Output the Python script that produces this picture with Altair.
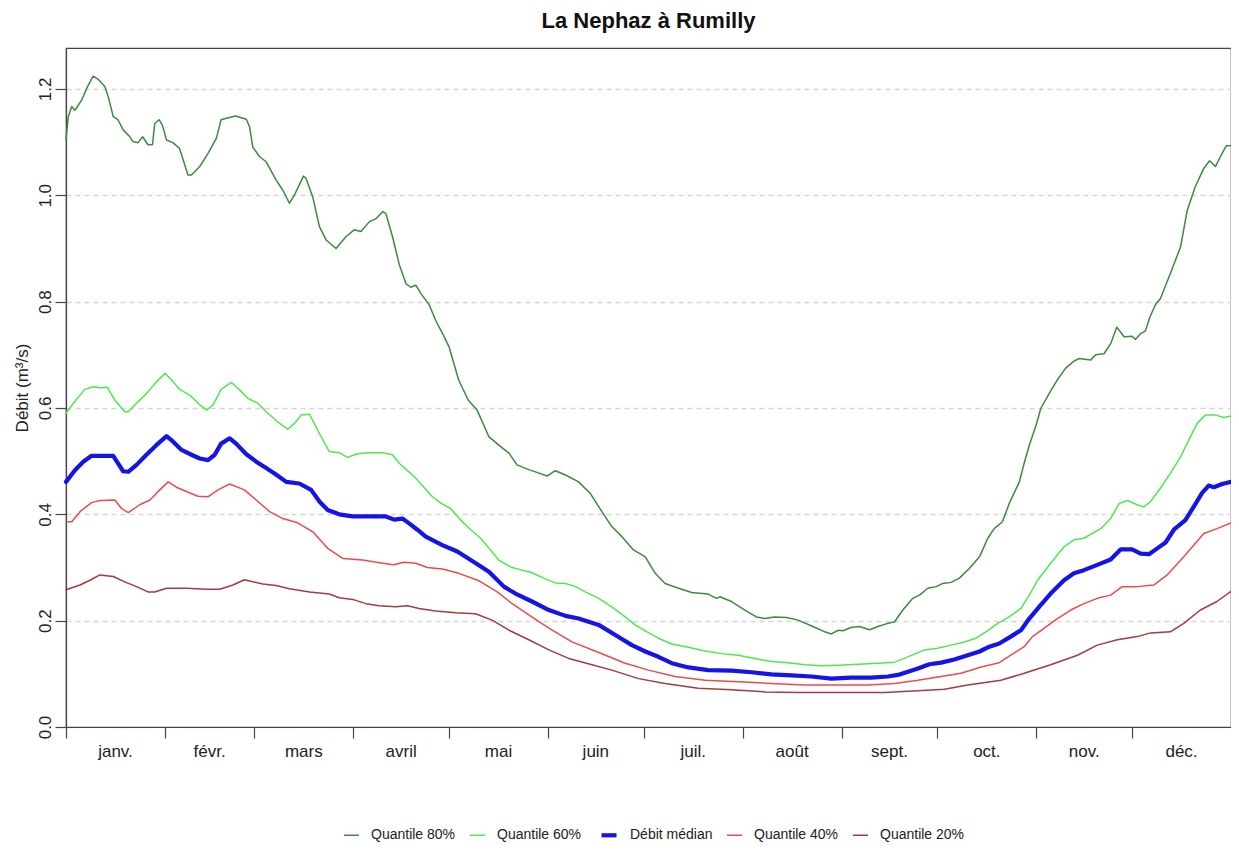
import altair as alt
import pandas as pd

FONT = "Liberation Sans"

months = ["janv.", "févr.", "mars", "avril", "mai", "juin", "juil.", "août",
          "sept.", "oct.", "nov.", "déc."]
month_start = [0, 31, 59, 90, 120, 151, 181, 212, 243, 273, 304, 334]
month_mid = [15.5, 45, 74.5, 105, 135.5, 166, 196.5, 227.5, 258, 288.5, 319, 349.5]

y_ticks = [0.0, 0.2, 0.4, 0.6, 0.8, 1.0, 1.2]

series_names = ["Quantile 80%", "Quantile 60%", "Débit médian", "Quantile 40%", "Quantile 20%"]
series_colors = ["#3a8c3a", "#4ee84e", "#1414e6", "#ee4a4a", "#a33c3c"]
series_widths = [1.5, 1.5, 4.2, 1.5, 1.5]

# (jour de l'année, débit m3/s)
q80 = [(0, 1.104), (0.7, 1.148), (1.8, 1.167), (2.8, 1.160), (4.9, 1.179), (6.7, 1.204),
       (8.5, 1.224), (10.1, 1.218), (12.2, 1.204), (13.2, 1.186), (14.8, 1.148), (16.3, 1.142),
       (17.9, 1.123), (20, 1.110), (21, 1.101), (22.6, 1.099), (24, 1.110), (25.7, 1.095),
       (27.1, 1.095), (27.8, 1.135), (29.2, 1.142), (30.2, 1.132), (31.5, 1.104), (33.5, 1.099),
       (35.6, 1.088), (38.2, 1.038), (39.3, 1.038), (41.9, 1.054), (44.5, 1.079), (47.1, 1.107),
       (48.6, 1.142), (50.2, 1.145), (53.1, 1.149), (56.5, 1.143), (57.5, 1.129), (58.5, 1.091),
       (60.6, 1.073), (62.7, 1.063), (65.8, 1.029), (67.9, 1.010), (70, 0.985), (71.6, 1.001),
       (74.4, 1.036), (75.2, 1.032), (77.3, 0.997), (79.4, 0.941), (81.5, 0.916), (84.6, 0.900),
       (87.7, 0.922), (90.3, 0.935), (92.4, 0.932), (95, 0.950), (97.1, 0.956), (99.2, 0.969),
       (100.2, 0.966), (102.3, 0.922), (104.4, 0.870), (106.5, 0.834), (108, 0.827), (109.6, 0.831),
       (111.2, 0.815), (113.8, 0.794), (115.8, 0.765), (118.4, 0.735), (120, 0.715), (123, 0.653),
       (126, 0.615), (128.8, 0.596), (132.5, 0.546), (135.6, 0.530), (138.8, 0.515), (141.3, 0.493),
       (145, 0.484), (148, 0.478), (150.7, 0.472), (153.3, 0.482), (156.5, 0.474), (160.6, 0.461),
       (164.3, 0.439), (167.9, 0.405), (171, 0.377), (174.2, 0.358), (177.8, 0.333), (181.5, 0.320),
       (184.6, 0.289), (187.7, 0.270), (191.9, 0.261), (196, 0.253), (201.2, 0.250), (203.8, 0.242),
       (204.9, 0.245), (208.5, 0.236), (212.7, 0.220), (216.3, 0.207), (219, 0.204), (222, 0.207),
       (225.7, 0.206), (229.4, 0.201), (234, 0.189), (237.7, 0.179), (239.8, 0.175), (241.9, 0.182),
       (243.4, 0.181), (246, 0.187), (248.6, 0.189), (251.8, 0.183), (254.4, 0.189), (257, 0.194),
       (259.6, 0.198), (262.2, 0.220), (265.3, 0.242), (267.4, 0.248), (270, 0.261), (272.6, 0.264),
       (274.7, 0.270), (277.3, 0.272), (279.9, 0.280), (283, 0.298), (286.2, 0.320), (288.8, 0.355),
       (290.8, 0.373), (293.4, 0.386), (295.5, 0.420), (298.7, 0.461), (300.2, 0.496), (301.8, 0.530),
       (303.8, 0.565), (305.4, 0.599), (308, 0.627), (310.6, 0.653), (313.2, 0.675), (315.8, 0.688),
       (317.4, 0.693), (321, 0.690), (322.6, 0.700), (325.2, 0.702), (327.3, 0.721), (329.2, 0.752),
       (331.5, 0.734), (334, 0.735), (335.1, 0.729), (336.7, 0.740), (338.2, 0.745), (339.6, 0.771),
       (341.3, 0.794), (342.9, 0.806), (346, 0.853), (349.2, 0.903), (351.3, 0.972), (353.8, 1.016),
       (356.5, 1.051), (358.3, 1.065), (360.1, 1.054), (361.7, 1.073), (363.5, 1.093), (365, 1.093)]

q60 = [(0, 0.590), (2.3, 0.609), (5.9, 0.635), (8.5, 0.640), (10.6, 0.638), (12.9, 0.639),
       (15.3, 0.615), (18.4, 0.593), (19.5, 0.593), (22.1, 0.609), (25.2, 0.627), (28.3, 0.649),
       (31.1, 0.665), (33, 0.653), (35.6, 0.635), (38.8, 0.624), (41.9, 0.606), (44, 0.596),
       (46.1, 0.606), (48.6, 0.635), (51.8, 0.648), (54.4, 0.634), (57, 0.618), (60.1, 0.609),
       (62.7, 0.593), (66.3, 0.574), (69.5, 0.560), (71.6, 0.571), (73.7, 0.587), (76.3, 0.588),
       (79.4, 0.552), (82.5, 0.518), (85.6, 0.516), (88.2, 0.507), (91.3, 0.514), (94.5, 0.516),
       (99.2, 0.516), (102.3, 0.512), (104.4, 0.496), (109.6, 0.468), (114.8, 0.433), (117.4, 0.421),
       (120.5, 0.411), (123.7, 0.389), (126.8, 0.371), (129.9, 0.355), (133, 0.333), (135.6, 0.314),
       (139.3, 0.301), (142.9, 0.295), (146, 0.290), (149.7, 0.280), (153.3, 0.271), (156.5, 0.270),
       (159.6, 0.264), (162.7, 0.254), (166.9, 0.242), (171, 0.226), (175.2, 0.207), (178.3, 0.192),
       (182, 0.179), (185.6, 0.167), (189.8, 0.156), (195, 0.150), (200.2, 0.143), (205.4, 0.138),
       (210.6, 0.135), (215.8, 0.129), (221, 0.123), (226.2, 0.121), (231.5, 0.117), (236.7, 0.115),
       (241.9, 0.116), (248.1, 0.118), (254.4, 0.120), (259.6, 0.122), (262.7, 0.129), (265.8, 0.137),
       (269, 0.145), (273.1, 0.148), (277.3, 0.154), (281.5, 0.160), (285.1, 0.167), (288.2, 0.179),
       (291.9, 0.195), (295.5, 0.207), (299.2, 0.223), (301.8, 0.248), (304.4, 0.276), (308.5, 0.308),
       (312.7, 0.339), (315.8, 0.352), (318.9, 0.355), (324.2, 0.373), (327.3, 0.392), (329.9, 0.420),
       (332.5, 0.426), (335.6, 0.418), (337.7, 0.414), (339.8, 0.424), (342.9, 0.449), (346, 0.477),
       (349.2, 0.508), (351.8, 0.540), (354.4, 0.571), (357, 0.587), (360.1, 0.587), (362.7, 0.582),
       (365, 0.585)]

median = [(0, 0.461), (2.8, 0.483), (5.4, 0.499), (8, 0.510), (10.6, 0.510), (14.8, 0.510),
          (16.3, 0.496), (17.9, 0.481), (19.5, 0.480), (22.1, 0.493), (25.2, 0.512), (28.3, 0.530),
          (31.5, 0.547), (33.5, 0.537), (36.2, 0.521), (39.3, 0.512), (41.9, 0.505), (44.5, 0.502),
          (46.6, 0.512), (48.6, 0.533), (51.3, 0.543), (53.3, 0.533), (56.5, 0.513), (59.6, 0.499),
          (62.7, 0.487), (65.8, 0.475), (69, 0.461), (73.1, 0.458), (76.8, 0.446), (79.4, 0.424),
          (82, 0.408), (85.6, 0.400), (89.8, 0.396), (94, 0.396), (100.2, 0.396), (102.8, 0.390),
          (105.4, 0.392), (107.5, 0.383), (110.1, 0.371), (112.7, 0.358), (117.9, 0.342), (122.6, 0.330),
          (126.8, 0.314), (132.5, 0.292), (137.2, 0.264), (140.8, 0.251), (146, 0.236), (151.3, 0.220),
          (156.5, 0.209), (160.6, 0.204), (166.9, 0.192), (172.1, 0.173), (177.3, 0.154), (181.5, 0.142),
          (185.6, 0.132), (189.8, 0.120), (195, 0.112), (201.2, 0.107), (208.5, 0.106), (214.8, 0.103),
          (221, 0.099), (227.3, 0.097), (233.5, 0.095), (239.8, 0.091), (246, 0.093), (252.3, 0.093),
          (257.5, 0.095), (260.6, 0.098), (263.8, 0.104), (266.9, 0.110), (270.5, 0.118), (274.2, 0.121),
          (278.3, 0.127), (282.5, 0.135), (286.2, 0.142), (289.3, 0.151), (292.4, 0.157), (296, 0.170),
          (299.2, 0.182), (301.8, 0.204), (304.9, 0.226), (308.5, 0.251), (312.7, 0.276), (315.8, 0.289),
          (318.9, 0.295), (323.1, 0.305), (327.3, 0.315), (330.4, 0.334), (334, 0.334), (336.7, 0.326),
          (339.3, 0.325), (341.9, 0.336), (344.5, 0.347), (347.1, 0.371), (350.7, 0.389), (353.3, 0.414),
          (355.9, 0.440), (358, 0.454), (359.6, 0.451), (362.2, 0.457), (365, 0.461)]

q40 = [(0, 0.386), (1.8, 0.386), (4.4, 0.405), (8, 0.422), (10.6, 0.426), (15.3, 0.427),
       (17.4, 0.411), (19.5, 0.403), (23.1, 0.418), (26.3, 0.427), (29.4, 0.446), (32, 0.461),
       (34.6, 0.451), (37.7, 0.443), (41.3, 0.434), (44.5, 0.433), (47.6, 0.446), (51.3, 0.457),
       (55.9, 0.446), (59.6, 0.427), (63.8, 0.405), (67.9, 0.392), (72.6, 0.384), (77.3, 0.367),
       (82, 0.336), (86.7, 0.317), (92.9, 0.314), (99.2, 0.308), (102.8, 0.305), (105.9, 0.310),
       (109.6, 0.308), (113.2, 0.300), (117.9, 0.297), (123.1, 0.289), (129.4, 0.275), (135.1, 0.254),
       (139.8, 0.232), (145, 0.211), (151.3, 0.186), (158.5, 0.160), (166.9, 0.140), (175.2, 0.120),
       (182.5, 0.107), (190.8, 0.095), (200.2, 0.088), (210.6, 0.085), (221, 0.082), (231.5, 0.079),
       (245, 0.079), (251.3, 0.079), (259.6, 0.082), (266.9, 0.088), (274.2, 0.095), (280.4, 0.101),
       (286.7, 0.113), (292.4, 0.121), (296, 0.135), (300.2, 0.151), (302.8, 0.170), (306.5, 0.186),
       (310.6, 0.204), (314.8, 0.220), (318.9, 0.232), (323.1, 0.242), (327.3, 0.248), (330.9, 0.264),
       (335.6, 0.264), (340.8, 0.267), (345, 0.286), (350.2, 0.320), (353.8, 0.345), (356.5, 0.364),
       (360.6, 0.373), (365, 0.384)]

q20 = [(0, 0.258), (4.4, 0.267), (7.5, 0.276), (10.6, 0.286), (14.8, 0.283), (18.4, 0.273),
       (22.1, 0.264), (25.7, 0.254), (27.8, 0.254), (31.5, 0.261), (37.7, 0.261), (44, 0.259),
       (48.1, 0.259), (52.3, 0.267), (55.9, 0.277), (58.5, 0.273), (61.7, 0.269), (65.8, 0.266),
       (70, 0.260), (76.3, 0.254), (82.5, 0.250), (85.6, 0.243), (89.8, 0.240), (94, 0.232),
       (98.1, 0.228), (103.3, 0.226), (107, 0.228), (110.6, 0.223), (115.8, 0.218), (122.1, 0.215),
       (128.3, 0.213), (133.5, 0.201), (138.8, 0.182), (145, 0.164), (151.3, 0.145), (157.5, 0.129),
       (164.8, 0.117), (171, 0.107), (179.4, 0.091), (187.7, 0.082), (198.1, 0.073), (208.5, 0.070),
       (219, 0.066), (229.4, 0.065), (245, 0.065), (256.5, 0.065), (266.9, 0.068), (275.2, 0.071),
       (282.5, 0.079), (292.9, 0.088), (300.2, 0.101), (308.5, 0.117), (316.9, 0.135), (323.1, 0.154),
       (329.4, 0.164), (335.6, 0.170), (339.8, 0.177), (346, 0.179), (350.2, 0.195), (355.4, 0.220),
       (360.6, 0.236), (365, 0.255)]

rows = []
for name, pts in zip(series_names, [q80, q60, median, q40, q20]):
    for d, v in pts:
        rows.append({"jour": d, "debit": v, "serie": name})
df = pd.DataFrame(rows)
labels_df = pd.DataFrame({"jour": month_mid, "mois": months})

x_scale = alt.Scale(domain=[0, 365], nice=False, zero=False)
y_scale = alt.Scale(domain=[0, 1.277], nice=False)

x_axis = alt.Axis(values=month_start, labels=False, tickSize=11, grid=False, title=None,
                  domainColor="#444", tickColor="#444", domainWidth=1.2, tickWidth=1.2)

y_axis = alt.Axis(values=y_ticks, format=".1f", labelAngle=270, labelAlign="center",
                  labelBaseline="bottom", labelPadding=1, tickSize=11, labelFontSize=17,
                  labelFont=FONT, labelColor="#222", grid=True, gridDash=[5, 4],
                  gridColor="#d6d6d6", gridWidth=1.5, domainColor="#444", tickColor="#444",
                  domainWidth=1.2, tickWidth=1.2,
                  title="Débit (m³/s)", titleFont=FONT, titleFontSize=17, titleFontWeight="normal",
                  titleColor="#222", titleAngle=270, titleX=-44, titleY=339.5,
                  titleAlign="center", titleBaseline="middle")

lines = alt.Chart(df).mark_line(strokeJoin="round", strokeCap="round").encode(
    x=alt.X("jour:Q", scale=x_scale, axis=x_axis),
    y=alt.Y("debit:Q", scale=y_scale, axis=y_axis),
    color=alt.Color("serie:N", title=None,
                    scale=alt.Scale(domain=series_names, range=series_colors),
                    legend=alt.Legend(orient="none", legendX=277, legendY=777,
                                      direction="horizontal", symbolType="stroke",
                                      symbolSize=225, labelFontSize=14, labelFont=FONT,
                                      labelColor="#222", labelOffset=11, columnPadding=11,
                                      padding=0)),
    strokeWidth=alt.StrokeWidth("serie:N", title=None,
                                scale=alt.Scale(type="ordinal", domain=series_names,
                                                range=series_widths)),
)

month_text = alt.Chart(labels_df).mark_text(
    baseline="alphabetic", align="center", fontSize=17, font=FONT, color="#222"
).encode(
    x=alt.X("jour:Q", scale=x_scale, axis=x_axis),
    y=alt.value(709),
    text="mois:N",
)

chart = alt.layer(lines, month_text).properties(
    width=1165,
    height=679,
    padding={"left": 58, "top": 40, "right": 0, "bottom": 116},
    autosize=alt.AutoSizeParams(type="none"),
    title=alt.TitleParams("La Nephaz à Rumilly", fontSize=22, fontWeight="bold", font=FONT,
                          anchor="middle", frame="group", baseline="alphabetic", offset=21,
                          dy=23, color="#111"),
).configure_view(stroke="#444", strokeWidth=1.2)

chart.save("out.html", embed_options={"renderer": "svg", "actions": False})
